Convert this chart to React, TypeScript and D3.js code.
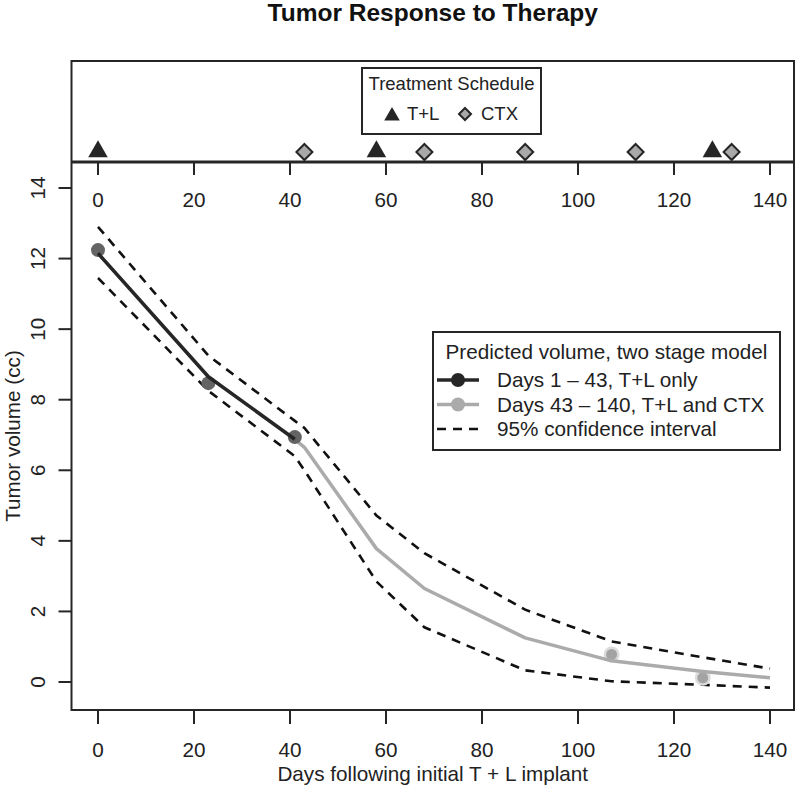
import React from 'react';
import * as d3 from 'd3';

const chartTitle = 'Tumor Response to Therapy';
const xLabel = 'Days following initial T + L implant';
const yLabel = 'Tumor volume (cc)';
const xTicks = [0, 20, 40, 60, 80, 100, 120, 140];
const yTicks = [0, 2, 4, 6, 8, 10, 12, 14];

const stage1Days = [0, 23, 41];
const stage1Vol = [12.15, 8.65, 6.88];
const stage2Days = [41, 43, 58, 68, 89, 107, 126, 140];
const stage2Vol = [6.88, 6.65, 3.78, 2.65, 1.25, 0.6, 0.3, 0.12];
const obs1Days = [0, 23, 41];
const obs1Vol = [12.24, 8.47, 6.94];
const obs2Days = [107, 126];
const obs2Vol = [0.78, 0.12];
const ciDays = [0, 23, 41, 43, 58, 68, 89, 107, 126, 140];
const ciUpper = [12.9, 9.25, 7.4, 7.2, 4.72, 3.65, 2.05, 1.15, 0.7, 0.38];
const ciLower = [11.45, 8.25, 6.4, 6.0, 2.85, 1.55, 0.33, 0.02, -0.08, -0.16];

const tlDays = [0, 58, 128];
const ctxDays = [43, 68, 89, 112, 132];

const legendTitle = 'Predicted volume, two stage model';
const legendItems = ['Days 1 \u2013 43, T+L only', 'Days 43 \u2013 140, T+L and CTX', '95% confidence interval'];
const schedTitle = 'Treatment Schedule';
const schedItems = ['T+L', 'CTX'];

const FONT = '"Liberation Sans", Arial, Helvetica, sans-serif';
const DARK = '#262626';
const GRAY = '#ababab';
const FS = 20.7;

export default function App() {
  const W = 800, H = 786;
  const left = 71.5, right = 794, top = 61, mid = 162, bottom = 710;
  const x = d3.scaleLinear().domain([0, 140]).range([98, 770]);
  const y = d3.scaleLinear().domain([0, 14]).range([682, 188]);
  const line = d3.line<[number, number]>().x(d => x(d[0])).y(d => y(d[1]));
  const zip = (a: number[], b: number[]) => a.map((v, i) => [v, b[i]] as [number, number]);
  const tri = d3.symbol().type(d3.symbolTriangle).size(165)();
  const triSmall = d3.symbol().type(d3.symbolTriangle).size(105)();
  const diamond = (cx: number, cy: number, r: number) =>
    `M${cx},${cy - r}L${cx + r},${cy}L${cx},${cy + r}L${cx - r},${cy}Z`;

  return (
    <svg width={W} height={H} style={{ position: 'absolute', left: 0, top: 0, background: '#fff' }} fontFamily={FONT}>
      <rect x={0} y={0} width={W} height={H} fill="#fff" />
      <text x={(left + right) / 2} y={21} textAnchor="middle" fontSize={24.5} fontWeight="bold" fill="#111">{chartTitle}</text>

      {/* top panel */}
      <rect x={left} y={top} width={right - left} height={bottom - top} fill="none" stroke={DARK} strokeWidth={2} />
      <line x1={left} x2={right} y1={mid} y2={mid} stroke={DARK} strokeWidth={3} />
      {xTicks.map(t => (
        <g key={'tt' + t}>
          <line x1={x(t)} x2={x(t)} y1={mid} y2={mid + 13} stroke={DARK} strokeWidth={2} />
          <text x={x(t)} y={207} textAnchor="middle" fontSize={FS} fill="#222">{t}</text>
        </g>
      ))}
      {tlDays.map(d => (
        <path key={'tl' + d} d={tri} transform={`translate(${x(d)},${151.5})`} fill={DARK} />
      ))}
      {ctxDays.map(d => (
        <path key={'cx' + d} d={diamond(x(d), 152, 8)} fill="#a9a9a9" stroke={DARK} strokeWidth={2} />
      ))}
      <rect x={362} y={68} width={179} height={66} fill="#fff" stroke={DARK} strokeWidth={2} />
      <text x={451.5} y={90} textAnchor="middle" fontSize={18.5} fill="#222">{schedTitle}</text>
      <path d={triSmall} transform="translate(392,116)" fill={DARK} />
      <text x={407} y={120} fontSize={18.5} fill="#222">{schedItems[0]}</text>
      <path d={diamond(465, 114, 6)} fill="#a9a9a9" stroke={DARK} strokeWidth={2} />
      <text x={481} y={120} fontSize={18.5} fill="#222">{schedItems[1]}</text>

      {/* main panel axes */}
      {yTicks.map(t => (
        <g key={'yt' + t}>
          <line x1={left - 13} x2={left} y1={y(t)} y2={y(t)} stroke={DARK} strokeWidth={2} />
          <text transform={`translate(45,${y(t)}) rotate(-90)`} textAnchor="middle" fontSize={FS} fill="#222">{t}</text>
        </g>
      ))}
      {xTicks.map(t => (
        <g key={'xt' + t}>
          <line x1={x(t)} x2={x(t)} y1={bottom} y2={bottom + 14} stroke={DARK} strokeWidth={2} />
          <text x={x(t)} y={757} textAnchor="middle" fontSize={FS} fill="#222">{t}</text>
        </g>
      ))}
      <text x={(left + right) / 2} y={781} textAnchor="middle" fontSize={FS} fill="#222">{xLabel}</text>
      <text transform={`translate(20,${(mid + bottom) / 2}) rotate(-90)`} textAnchor="middle" fontSize={FS} fill="#222">{yLabel}</text>

      {/* confidence interval */}
      <path d={line(zip(ciDays, ciUpper)) || ''} fill="none" stroke="#111" strokeWidth={2.6} strokeDasharray="9,7" />
      <path d={line(zip(ciDays, ciLower)) || ''} fill="none" stroke="#111" strokeWidth={2.6} strokeDasharray="9,7" />

      {/* observed points stage 2 */}
      {obs2Days.map((d, i) => (
        <g key={'o2' + d}>
          <circle cx={x(d)} cy={y(obs2Vol[i])} r={8} fill="#dcdcdc" />
          <circle cx={x(d)} cy={y(obs2Vol[i])} r={5.5} fill="#a3a3a3" />
        </g>
      ))}
      {/* model lines */}
      <path d={line(zip(stage2Days, stage2Vol)) || ''} fill="none" stroke={GRAY} strokeWidth={3.5} strokeLinejoin="round" />
      {obs1Days.map((d, i) => (
        <circle key={'o1' + d} cx={x(d)} cy={y(obs1Vol[i])} r={7} fill="#646464" />
      ))}
      <path d={line(zip(stage1Days, stage1Vol)) || ''} fill="none" stroke={DARK} strokeWidth={3.5} strokeLinejoin="round" />

      {/* legend */}
      <rect x={433} y={332} width={347} height={118} fill="#fff" stroke={DARK} strokeWidth={2} />
      <text x={606.5} y={359} textAnchor="middle" fontSize={FS} fill="#222">{legendTitle}</text>
      <line x1={437} x2={479} y1={380} y2={380} stroke={DARK} strokeWidth={3.5} />
      <circle cx={458} cy={380} r={7} fill={DARK} />
      <text x={497} y={387} fontSize={FS} fill="#222">{legendItems[0]}</text>
      <line x1={437} x2={479} y1={404.5} y2={404.5} stroke={GRAY} strokeWidth={3.5} />
      <circle cx={458} cy={404.5} r={7} fill={GRAY} />
      <text x={497} y={411.5} fontSize={FS} fill="#222">{legendItems[1]}</text>
      <line x1={437} x2={479} y1={429} y2={429} stroke="#111" strokeWidth={2.6} strokeDasharray="9,7" />
      <text x={497} y={436} fontSize={FS} fill="#222">{legendItems[2]}</text>
    </svg>
  );
}
